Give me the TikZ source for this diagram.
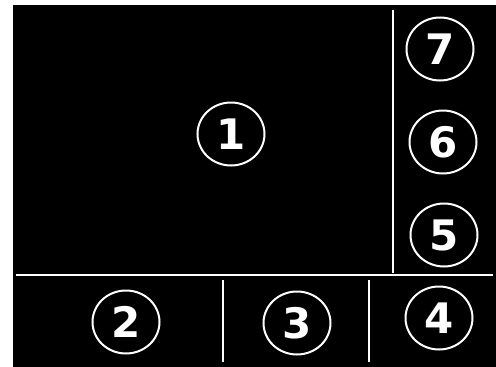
\documentclass[tikz,border=0pt]{standalone}
\usepackage{fontspec}
\setmainfont{DejaVu Sans}
\usetikzlibrary{shapes.geometric}
\begin{document}
\begin{tikzpicture}[x=1pt,y=-1pt,
			every node/.style={ellipse,draw=white,line width=2pt,minimum width=67pt,minimum height=63pt,inner sep=0pt,text=white,font=\fontsize{42}{42}\selectfont\bfseries},
			divider/.style={white,line width=2.2pt}]
			
			% white margin and black screen
			\useasboundingbox[fill=white] (0,0) rectangle (496,367);
			\fill[black] (13,5) rectangle (496,367);
			
			% numbered regions
			\foreach \i/\x/\y in {1/231/134,2/126/322,3/297/323,4/439/318,5/444/235,6/443/142,7/440/49}{
				\node (r\i) at (\x,\y) {\i};
			}
			
			% dividers between the regions
			\draw[divider] (393,10) -- (393,273);
			\draw[divider,line width=1.8pt] (16,275) -- (493,275);
			\draw[divider] (223,280) -- (223,362);
			\draw[divider] (369,280) -- (369,362);
			
		\end{tikzpicture}
\end{document}
